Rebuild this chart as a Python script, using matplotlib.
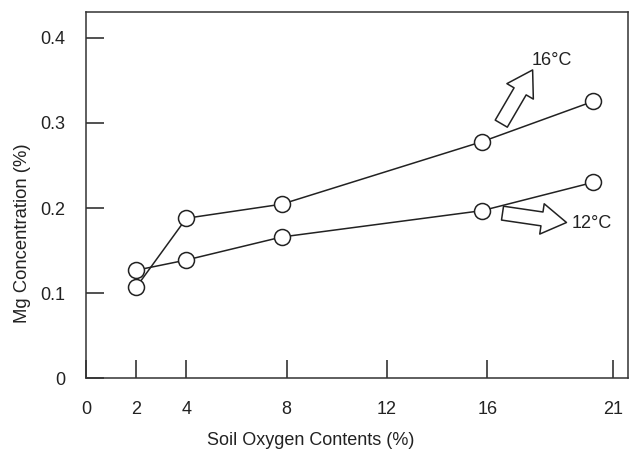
import matplotlib.pyplot as plt

plt.rcParams['font.family'] = ['Liberation Sans', 'DejaVu Sans']

oxygen = [2, 4, 7.8, 15.8, 20.2]
mg_16c = [0.107, 0.188, 0.2045, 0.278, 0.325]
mg_12c = [0.127, 0.139, 0.166, 0.197, 0.230]

x_ticks = [0, 2, 4, 8, 12, 16, 21]
y_ticks = [0, 0.1, 0.2, 0.3, 0.4]
y_labels = ['0', '0.1', '0.2', '0.3', '0.4']

fig = plt.figure(figsize=(6.31, 4.51), dpi=100)
ax = fig.add_axes([0.1363, 0.1608, 0.8589, 0.8126])

for ys in (mg_16c, mg_12c):
    ax.plot(oxygen, ys, color='#222222', lw=1.1, marker='o', ms=11.5,
            mfc='white', mec='#222222', mew=1.1, zorder=3)

ax.set_xlim(0, 21.6)
ax.set_ylim(0, 0.43)
ax.set_xticks(x_ticks)
ax.set_yticks(y_ticks)
ax.set_yticklabels(y_labels)
ax.tick_params(direction='in', length=13, width=1.1, labelsize=13,
               colors='#222222')
ax.tick_params(axis='x', pad=16)
ax.tick_params(axis='y', pad=15)
for s in ax.spines.values():
    s.set_linewidth(1.1)
    s.set_color('#333333')

ax.set_xlabel('Soil Oxygen Contents (%)', fontsize=13, color='#222222', va='center')
ax.set_ylabel('Mg Concentration (%)', fontsize=13.3, color='#222222', va='center')
ax.xaxis.set_label_coords(0.415, -0.17)
ax.yaxis.set_label_coords(-0.118, 0.397)

# hollow block arrows with labels
astyle = 'simple,head_length=0.85,head_width=1.05,tail_width=0.48'
ax.annotate('', xy=(17.8, 0.362), xytext=(16.55, 0.299),
            arrowprops=dict(arrowstyle=astyle, fc='white', ec='#222222',
                            lw=1.1, mutation_scale=21, shrinkA=0, shrinkB=0))
ax.text(17.75, 0.373, '16°C', fontsize=13, va='center', ha='left', color='#222222')

ax.annotate('', xy=(19.15, 0.183), xytext=(16.6, 0.194),
            arrowprops=dict(arrowstyle=astyle, fc='white', ec='#222222',
                            lw=1.1, mutation_scale=21, shrinkA=0, shrinkB=0))
ax.text(19.35, 0.182, '12°C', fontsize=13, va='center', ha='left', color='#222222')

fig.savefig('out.png', dpi=100)
